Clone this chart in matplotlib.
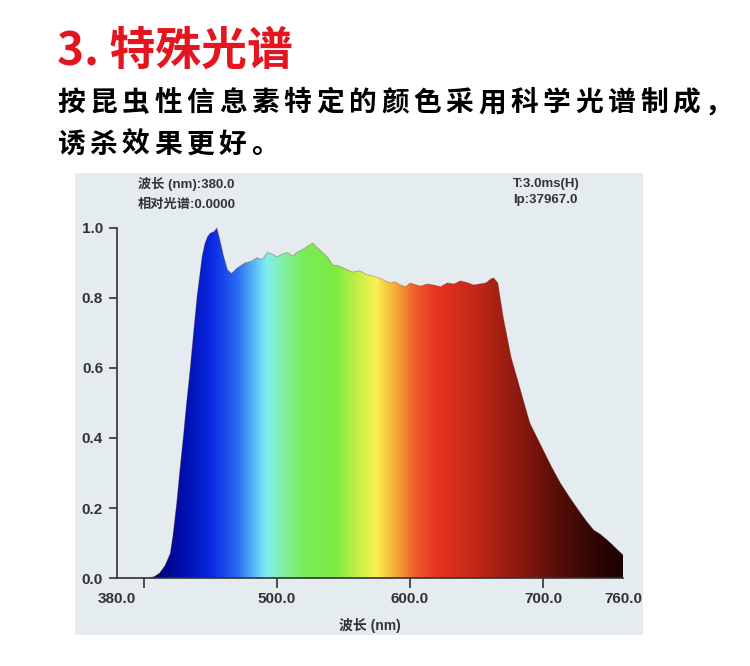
import numpy as np
import matplotlib
matplotlib.use("Agg")
import matplotlib.pyplot as plt
from matplotlib.colors import LinearSegmentedColormap
from matplotlib.patches import Rectangle, Polygon

plt.rcParams['font.family'] = ['Noto Sans CJK SC', 'DejaVu Sans']
LATIN = ['Liberation Sans', 'Noto Sans CJK SC']

# spectrum
wavelength = [380, 404, 408, 412, 416, 420, 422, 425, 427, 430, 432, 435, 438, 440,
              442, 444, 446, 448, 450, 453, 455, 457, 460, 463, 466, 470, 476, 481,
              485, 489, 493, 497, 500, 504, 508, 512, 515, 520, 524, 527, 530, 533,
              538, 542, 546, 550, 557, 562, 568, 573, 578, 585, 589, 593, 597, 600,
              604, 608, 613, 618, 623, 628, 633, 638, 643, 648, 652, 657, 661, 663,
              666, 670, 676, 683, 690, 700, 706, 713, 720, 728, 733, 738, 743, 748,
              752, 756, 760]
rel_spectrum = [0.0, 0.0, 0.004, 0.014, 0.035, 0.07, 0.12, 0.22, 0.30, 0.41, 0.49, 0.60, 0.72, 0.80,
                0.86, 0.92, 0.955, 0.975, 0.985, 0.99, 1.0, 0.97, 0.92, 0.88, 0.87, 0.885, 0.90, 0.905,
                0.915, 0.91, 0.93, 0.925, 0.917, 0.925, 0.93, 0.92, 0.93, 0.94, 0.95, 0.957, 0.945, 0.935,
                0.917, 0.894, 0.892, 0.886, 0.874, 0.878, 0.866, 0.862, 0.855, 0.843, 0.846, 0.837, 0.832, 0.843,
                0.838, 0.834, 0.84, 0.837, 0.832, 0.843, 0.84, 0.849, 0.844, 0.837, 0.84, 0.843, 0.855, 0.857,
                0.843, 0.746, 0.63, 0.537, 0.443, 0.366, 0.32, 0.271, 0.23, 0.186, 0.16, 0.137, 0.125, 0.109,
                0.095, 0.08, 0.066]

x_ticks = [400, 500, 600, 700]
x_tick_labels = ["", "500.0", "600.0", "700.0"]
x_edge_ticks = [380, 760]
x_edge_labels = ["380.0", "760.0"]
y_ticks = [0.0, 0.2, 0.4, 0.6, 0.8, 1.0]

# wavelength -> colour stops for the spectrum fill
stops = [(380, "#000050"), (405, "#000070"), (430, "#0010b0"), (450, "#0a28e0"),
         (470, "#2a6af5"), (485, "#60c8f8"), (492, "#80eef0"), (505, "#80f0a0"),
         (520, "#78ec5a"), (545, "#80ea40"), (562, "#c8f048"), (575, "#f8f050"),
         (590, "#f5a838"), (605, "#ee5a28"), (620, "#e63322"), (650, "#c42818"),
         (680, "#901a10"), (710, "#5a0e08"), (740, "#300605"), (760, "#1a0303")]
cmap = LinearSegmentedColormap.from_list(
    "spec", [((w - 380) / 380, c) for w, c in stops])

W, H = 750, 666
PANEL = "#e4ecef"
TXT = "#333333"

fig = plt.figure(figsize=(W / 100, H / 100), dpi=100, facecolor="white")

def fx(px):
    return px / W

def fy(py):
    return 1 - py / H

# grey panel behind the chart
fig.patches.append(Rectangle((fx(75), fy(635)), fx(643) - fx(75), fy(173) - fy(635),
                             transform=fig.transFigure, facecolor=PANEL,
                             edgecolor="none", zorder=-10))

# headings
fig.text(fx(57), fy(52), "3. 特殊光谱", color="#e3151f", fontsize=33,
         fontweight="bold", va="center", ha="left")
line1 = "按昆虫性信息素特定的颜色采用科学光谱制成，"
line2 = "诱杀效果更好。"
pitch = 32.4
for i, ch in enumerate(line1):
    fig.text(fx(57 + i * pitch), fy(103), ch, color="black", fontsize=20,
             fontweight="bold", va="center", ha="left")
for i, ch in enumerate(line2):
    fig.text(fx(57 + i * pitch), fy(145), ch, color="black", fontsize=20,
             fontweight="bold", va="center", ha="left")

ax = fig.add_axes([fx(117), fy(578), fx(623) - fx(117), fy(226.25) - fy(578)])
ax.patch.set_alpha(0)

ax.set_xlim(380, 760)
ax.set_ylim(0, 1.005)

img = ax.imshow(np.linspace(380, 760, 760)[None, :], cmap=cmap, aspect="auto",
                extent=[380, 760, 0, 1.0], vmin=380, vmax=760, zorder=1)
poly_pts = np.column_stack([wavelength + [760, 380], rel_spectrum + [0, 0]])
poly = Polygon(poly_pts, closed=True, facecolor="none", edgecolor="none")
ax.add_patch(poly)
img.set_clip_path(poly)
ax.plot(wavelength, rel_spectrum, color="#7a1a12", linewidth=0.6, alpha=0.35, zorder=2)

for s in ["top", "right"]:
    ax.spines[s].set_visible(False)
for s in ["left", "bottom"]:
    ax.spines[s].set_color(TXT)
    ax.spines[s].set_linewidth(1.2)
    ax.spines[s].set_zorder(3)
ax.spines["left"].set_bounds(0, 1.0)

ax.set_xticks(x_ticks)
ax.set_xticklabels(x_tick_labels)
ax.set_xticks(x_edge_ticks, minor=True)
ax.set_xticklabels(x_edge_labels, minor=True)
ax.tick_params(axis="x", which="major", length=7, width=1.2, color=TXT,
               labelsize=11, labelcolor=TXT, pad=3)
ax.tick_params(axis="x", which="minor", length=0, labelsize=11, labelcolor=TXT, pad=10)
ax.set_yticks(y_ticks)
ax.set_yticklabels([f"{v:.1f}" for v in y_ticks])
ax.tick_params(axis="y", length=6, width=1.2, color=TXT, labelsize=11,
               labelcolor=TXT, pad=4)
for lab in ax.get_xticklabels(which="both") + ax.get_yticklabels():
    lab.set_fontweight("bold")
    lab.set_family(LATIN)

ax.set_xlabel("波长 (nm)", fontsize=10, fontweight="bold", color=TXT, labelpad=9,
              family=LATIN)

# readout text in the panel
fig.text(fx(138), fy(184), "波长 (nm):380.0", fontsize=9.5, fontweight="bold",
         color=TXT, va="center", ha="left", family=LATIN)
fig.text(fx(138), fy(205), "相对光谱:0.0000", fontsize=9.5, fontweight="bold",
         color=TXT, va="center", ha="left", family=LATIN)
fig.text(fx(513), fy(184), "T:3.0ms(H)", fontsize=9.5, fontweight="bold",
         color=TXT, va="center", ha="left", family=LATIN)
fig.text(fx(513), fy(200), "Ip:37967.0", fontsize=9.5, fontweight="bold",
         color=TXT, va="center", ha="left", family=LATIN)

fig.savefig("out.png", dpi=100, facecolor="white")
